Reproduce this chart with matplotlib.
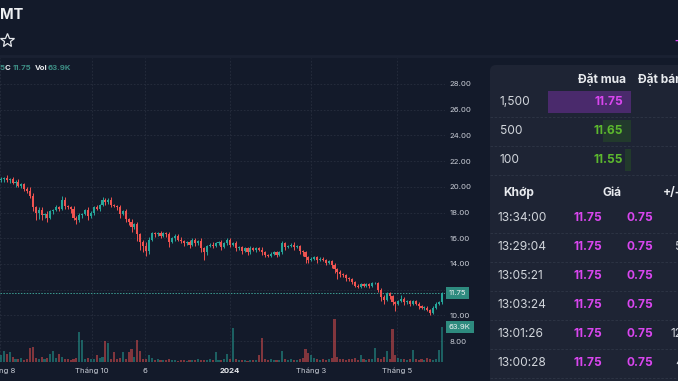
import numpy as np
import matplotlib.pyplot as plt
import matplotlib.transforms as mtrans
from matplotlib.patches import FancyBboxPatch, Rectangle

plt.rcParams['font.family'] = ['Inter', 'DejaVu Sans']

# --- data ---
closes = [
    20.6, 20.7, 20.5, 20.6, 20.3, 20.4, 20.1, 20.2, 19.8, 19.7,
    19.3, 18.4, 18.0, 18.2, 17.8, 17.9, 17.6, 18.1, 18.2, 18.4,
    18.3, 19.0, 18.5, 18.4, 18.3, 17.6, 17.4, 17.8, 17.9, 18.2,
    17.7, 18.0, 18.4, 18.3, 18.6, 19.0, 18.8, 19.0, 18.6, 18.5,
    18.4, 17.9, 18.1, 17.5, 17.3, 16.9, 17.1, 16.3, 15.7, 15.4,
    15.0, 15.9, 16.4, 16.3, 16.4, 16.2, 16.4, 16.3, 15.7, 16.0,
    16.2, 15.9, 15.8, 15.6, 15.7, 15.5, 15.9, 15.6, 15.8, 15.2,
    14.9, 15.4, 15.5, 15.4, 15.6, 15.7, 15.3, 15.6, 15.9, 15.5,
    15.6, 15.2, 15.3, 15.0, 15.2, 14.9, 15.2, 15.1, 15.2, 15.1,
    14.9, 14.7, 14.6, 14.8, 14.9, 14.7, 14.9, 15.6, 15.3, 15.4,
    15.5, 15.3, 15.4, 15.0, 14.9, 14.5, 14.3, 14.4, 14.5, 14.3,
    14.4, 14.3, 14.1, 14.2, 13.9, 13.6, 13.4, 13.2, 13.1, 12.9,
    12.8, 12.6, 12.3, 12.2, 12.4, 12.3, 12.4, 12.3, 12.5, 12.5,
    12.0, 11.4, 11.2, 11.7, 11.5, 11.0, 10.9, 11.1, 11.3, 11.0,
    11.1, 10.9, 11.1, 10.9, 10.7, 10.6, 10.6, 10.4, 10.2, 10.6,
    10.9, 11.0, 11.75]
first_open = 20.5
wick_up = [
    0.2, 0.1, 0.2, 0.1, 0.2, 0.1, 0.2, 0.1, 0.1, 0.2,
    0.3, 0.2, 0.1, 0.2, 0.2, 0.1, 0.2, 0.1, 0.1, 0.2,
    0.1, 0.3, 0.2, 0.1, 0.1, 0.2, 0.1, 0.2, 0.1, 0.1,
    0.2, 0.1, 0.1, 0.2, 0.1, 0.2, 0.1, 0.1, 0.2, 0.1,
    0.1, 0.2, 0.1, 0.2, 0.1, 0.2, 0.1, 0.2, 0.1, 0.2,
    0.3, 0.2, 0.1, 0.1, 0.1, 0.2, 0.1, 0.1, 0.2, 0.1,
    0.1, 0.1, 0.2, 0.1, 0.1, 0.2, 0.1, 0.1, 0.1, 0.2,
    0.1, 0.1, 0.1, 0.2, 0.1, 0.1, 0.2, 0.1, 0.1, 0.1,
    0.1, 0.2, 0.1, 0.1, 0.1, 0.1, 0.2, 0.1, 0.1, 0.1,
    0.2, 0.1, 0.1, 0.1, 0.1, 0.1, 0.1, 0.2, 0.1, 0.1,
    0.1, 0.2, 0.1, 0.1, 0.1, 0.1, 0.1, 0.1, 0.1, 0.1,
    0.1, 0.1, 0.1, 0.1, 0.1, 0.2, 0.1, 0.1, 0.1, 0.1,
    0.1, 0.1, 0.1, 0.1, 0.1, 0.1, 0.1, 0.1, 0.1, 0.1,
    0.1, 0.1, 0.2, 0.1, 0.1, 0.1, 0.1, 0.1, 0.3, 0.1,
    0.1, 0.1, 0.1, 0.1, 0.1, 0.1, 0.1, 0.1, 0.1, 0.1,
    0.1, 0.1, 0.1]
wick_dn = [
    0.1, 0.2, 0.1, 0.2, 0.1, 0.3, 0.1, 0.2, 0.1, 0.2,
    0.2, 0.3, 0.6, 0.5, 0.4, 0.2, 0.3, 0.1, 0.2, 0.1,
    0.2, 0.1, 0.2, 0.1, 0.3, 0.2, 0.3, 0.1, 0.2, 0.1,
    0.3, 0.1, 0.2, 0.1, 0.2, 0.1, 0.2, 0.1, 0.2, 0.1,
    0.2, 0.3, 0.1, 0.2, 0.3, 0.4, 0.2, 0.5, 0.6, 0.5,
    0.4, 0.2, 0.1, 0.2, 0.1, 0.2, 0.1, 0.2, 0.4, 0.1,
    0.2, 0.1, 0.2, 0.2, 0.1, 0.3, 0.1, 0.2, 0.1, 0.3,
    0.6, 0.2, 0.1, 0.2, 0.1, 0.1, 0.2, 0.1, 0.1, 0.2,
    0.1, 0.2, 0.1, 0.2, 0.1, 0.2, 0.1, 0.1, 0.2, 0.1,
    0.2, 0.2, 0.1, 0.1, 0.1, 0.2, 0.1, 0.1, 0.2, 0.1,
    0.1, 0.2, 0.1, 0.2, 0.3, 0.4, 0.2, 0.1, 0.1, 0.2,
    0.1, 0.1, 0.2, 0.1, 0.2, 0.3, 0.6, 0.2, 0.1, 0.2,
    0.1, 0.2, 0.1, 0.1, 0.1, 0.1, 0.1, 0.2, 0.1, 0.1,
    0.2, 0.3, 0.3, 0.1, 0.2, 0.2, 0.6, 0.1, 0.1, 0.2,
    0.1, 0.2, 0.1, 0.1, 0.2, 0.1, 0.2, 0.1, 0.2, 0.1,
    0.1, 0.1, 0.1]
volumes = [  # thousands
    12, 20, 14, 18, 10, 6, 5, 8, 4, 6,
    25, 28, 8, 6, 10, 5, 7, 15, 20, 8,
    14, 10, 6, 5, 4, 6, 8, 55, 40, 6,
    8, 5, 6, 12, 8, 10, 38, 34, 6, 18,
    5, 8, 18, 6, 18, 24, 10, 40, 20, 6,
    5, 12, 8, 4, 5, 3, 4, 3, 5, 3,
    4, 2, 3, 4, 2, 3, 4, 3, 5, 3,
    4, 3, 5, 4, 18, 4, 3, 5, 14, 6,
    62, 5, 3, 4, 3, 2, 4, 3, 4, 12,
    44, 6, 4, 5, 3, 4, 3, 20, 6, 4,
    5, 3, 4, 6, 8, 24, 16, 12, 8, 5,
    4, 6, 3, 5, 8, 78, 10, 6, 5, 4,
    6, 5, 8, 4, 12, 5, 4, 6, 5, 26,
    8, 6, 10, 20, 6, 60, 12, 8, 5, 6,
    4, 5, 22, 5, 4, 6, 3, 8, 5, 4,
    6, 22, 63.9]

price_ticks = [8, 10, 12, 14, 16, 18, 20, 22, 24, 26, 28]
date_ticks = [-0.34, 31.4, 49.7, 79.0, 106.9, 136.6]
date_labels = ['Tháng 8', 'Tháng 10', '6', '2024', 'Tháng 3', 'Tháng 5']

bid_vols = [1500, 500, 100]
bid_prices = ['11.75', '11.65', '11.55']
trade_times = ['13:34:00', '13:29:04', '13:05:21', '13:03:24', '13:01:26', '13:00:28']
trade_prices = ['11.75'] * 6
trade_changes = ['0.75'] * 6
trade_vols = ['100', '5,000', '200', '1,000', '12,300', '4,600']

# --- colours ---
BG = '#131a2a'
PANEL = '#1e2434'
UP = '#26a69a'
DOWN = '#ef5350'
GRID = '#272e3e'
LABEL = '#c9cdd6'
MAGENTA = '#d946ef'
GREEN = '#5cb82e'

W, H = 678, 381
fig = plt.figure(figsize=(W / 100, H / 100), dpi=100)
fig.patch.set_facecolor(BG)

rect = [0, (H - 362) / H, 445 / W, 304 / H]
ax = fig.add_axes(rect)
ax.set_facecolor(BG)
for s in ax.spines.values():
    s.set_visible(False)

closes = np.array(closes)
opens = np.concatenate([[first_open], closes[:-1]])
highs = np.maximum(opens, closes) + np.array(wick_up)
lows = np.minimum(opens, closes) - np.array(wick_dn)
idx = np.arange(len(closes))
up = closes >= opens
colors = np.where(up, UP, DOWN)

ax.vlines(idx, lows, highs, colors=colors, linewidth=0.7, zorder=3)
body = np.where(np.abs(closes - opens) < 0.05, 0.05, closes - opens)
ax.bar(idx, body, bottom=opens, width=0.75, color=colors, linewidth=0, zorder=4)

ax.set_xlim(-0.345, 153.1)
ax.set_ylim(6.37, 30.02)
ax.set_yticks(price_ticks)
ax.set_yticklabels([f'{p:.2f}' for p in price_ticks])
ax.yaxis.tick_right()
ax.tick_params(axis='y', length=0, pad=3, labelsize=5.6, labelcolor=LABEL)
ax.set_xticks(date_ticks)
ax.set_xticklabels(date_labels)
ax.tick_params(axis='x', length=0, pad=4, labelsize=5.6, labelcolor=LABEL)
for lbl in ax.get_xticklabels():
    if lbl.get_text() == '2024':
        lbl.set_fontweight('bold')
        lbl.set_color('#e8eaee')
ax.grid(True, color=GRID, linestyle=(0, (2, 2)), linewidth=0.6)
ax.set_axisbelow(True)

last = closes[-1]
ax.axhline(last, color='#3c9e92', linestyle=(0, (1.5, 1.5)), linewidth=0.7, zorder=2)
bt = mtrans.blended_transform_factory(ax.transAxes, ax.transData)
ax.text(1.0 + 4 / 445, last, f'{last:.2f}', transform=bt, ha='left', va='center',
        fontsize=5.6, color='#eef2f2', zorder=10,
        bbox=dict(boxstyle='square,pad=0.35', fc='#2e8b7f', ec='none'))

# volume pane on the same frame
vax = fig.add_axes(rect, sharex=ax)
vax.patch.set_alpha(0)
vax.axis('off')
vax.set_ylim(0, 63.9 * 304 / 35)
vax.bar(idx, volumes, width=0.7, color=colors, alpha=0.5, linewidth=0)
vt = mtrans.blended_transform_factory(vax.transAxes, vax.transData)
vax.text(1.0 + 4 / 445, volumes[-1], f'{volumes[-1]}K', transform=vt, ha='left', va='center',
         fontsize=5.6, color='#eef2f2', zorder=10,
         bbox=dict(boxstyle='square,pad=0.35', fc='#2e8b7f', ec='none'))

# --- page furniture in pixel coordinates ---
ui = fig.add_axes([0, 0, 1, 1])
ui.set_xlim(0, W)
ui.set_ylim(H, 0)
ui.axis('off')
ui.patch.set_alpha(0)

ui.plot([0, W], [56, 56], color='#1a2132', linewidth=2)
ui.text(0, 15, 'MT', fontsize=10.5, fontweight='bold', color='#eef0f3', va='center', ha='left')
ui.plot(7, 40, marker='*', ms=10, mfc='none', mec='#e5e7eb', mew=0.9)
ui.text(673, 40, '+', fontsize=12, color=MAGENTA, va='center', ha='left')

legend = [(-1, '5', '#3e8f86'), (5, 'C', '#e5e7eb'), (13, '11.75', '#3e8f86'),
          (35, 'Vol', '#e5e7eb'), (48, '63.9K', '#3e8f86')]
for x, t, c in legend:
    ui.text(x, 68, t, fontsize=5.6, color=c, va='center', ha='left', fontweight='bold')

panel = FancyBboxPatch((490, 65), 260, 400, boxstyle='round,pad=0,rounding_size=6',
                       fc=PANEL, ec='none')
ui.add_patch(panel)

hdr = dict(fontsize=8.6, fontweight='bold', color='#e8eaee', va='center')
ui.text(626, 80, 'Đặt mua', ha='right', **hdr)
ui.text(638, 80, 'Đặt bán', ha='left', **hdr)

row_y = [102, 131, 160]
max_bar = 83
for i, (v, p) in enumerate(zip(bid_vols, bid_prices)):
    y = row_y[i]
    w = max_bar * v / max(bid_vols)
    fc = '#4a2a6c' if i == 0 else '#223a2c'
    ui.add_patch(Rectangle((631 - w, y - 11), w, 22, fc=fc, ec='none'))
    ui.text(500, y, f'{v:,}', fontsize=8.6, color='#d1d5db', va='center', ha='left')
    ui.text(623, y, p, fontsize=8.6, fontweight='bold', color=MAGENTA if i == 0 else GREEN,
            va='center', ha='right')
    ui.plot([490, W], [y + 15, y + 15], color='#2f3646', linewidth=0.6, linestyle=(0, (3, 2)))

ui.text(503, 193, 'Khớp', ha='left', **hdr)
ui.text(612, 193, 'Giá', ha='center', **hdr)
ui.text(663, 193, '+/-', ha='left', **hdr)

for k in range(len(trade_times)):
    y = 218 + 29 * k
    ui.text(498, y, trade_times[k], fontsize=8.6, color='#d1d5db', va='center', ha='left')
    ui.text(588, y, trade_prices[k], fontsize=8.6, fontweight='bold', color=MAGENTA,
            va='center', ha='center')
    ui.text(640, y, trade_changes[k], fontsize=8.6, fontweight='bold', color=MAGENTA,
            va='center', ha='center')
    ui.text(709, y, trade_vols[k], fontsize=8.6, color='#d1d5db', va='center', ha='right')
    ui.plot([490, W], [y + 14.5, y + 14.5], color='#2f3646', linewidth=0.6, linestyle=(0, (3, 2)))

fig.savefig('out.png', dpi=100, facecolor=BG)
